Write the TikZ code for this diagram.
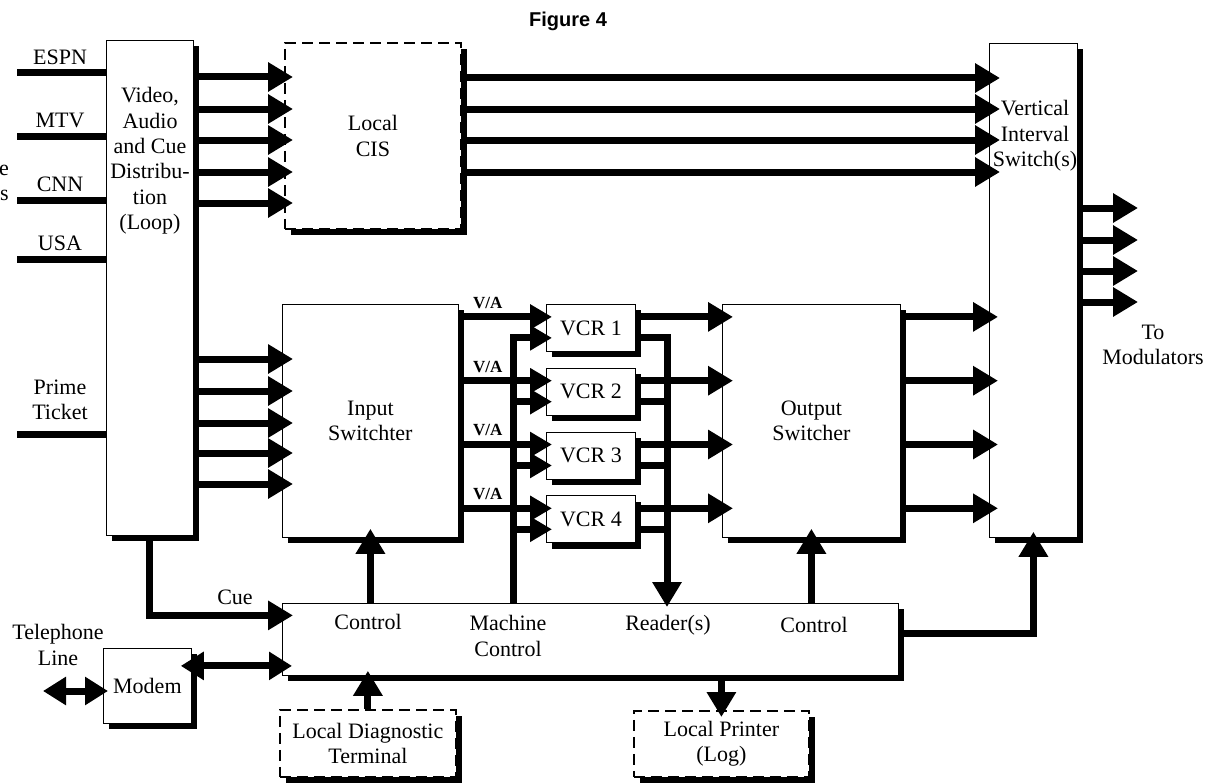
\documentclass[tikz,border=0pt]{standalone}
\usepackage{fontspec}
\setmainfont{Liberation Serif}
\newfontfamily\figfont{Liberation Sans}
\usepackage{tikz}
\usetikzlibrary{positioning,arrows.meta,calc,shadows}
\newcommand{\txt}{\fontsize{22}{25.4}\selectfont}

\begin{document}
\begin{tikzpicture}[
  x=1pt, y=-1pt,
  box/.style={draw, line width=0.8pt, fill=white, inner sep=0pt, anchor=north west, align=center, font=\txt,
    drop shadow={shadow xshift=6pt, shadow yshift=-6pt, fill=black, opacity=1}},
  dbox/.style={box, line width=1.8pt, dash pattern=on 11pt off 6pt},
  vcrbox/.style={box, minimum width=89, minimum height=47},
  lbl/.style={align=center, font=\txt, inner sep=0pt},
  valbl/.style={font=\fontsize{17}{19}\selectfont\bfseries, inner sep=0pt},
  wire/.style={line width=7pt},
  arr/.style={wire, -{Triangle[length=25pt,width=28pt]}, shorten >=-9pt},
  arrs/.style={wire, -{Triangle[length=22pt,width=24pt]}, shorten >=-6pt},
  dbl/.style={wire, {Triangle[length=23pt,width=27pt]}-{Triangle[length=23pt,width=27pt]}}
]
\useasboundingbox (0,0) rectangle (1216,784);
\node[font=\figfont\bfseries\fontsize{20}{24}\selectfont] (fig) at (568,21) {Figure 4};

% boxes
\node[box, minimum width=87, minimum height=495] (dist) at (106,40) {};
\node[dbox, minimum width=176, minimum height=186] (cis) at (284,42) {Local\\CIS};
\node[box, minimum width=88, minimum height=494] (vis) at (989,43) {};
\node[box, minimum width=176, minimum height=233] (insw) at (282,304) {Input\\Switchter};
\node[box, minimum width=178, minimum height=233] (outsw) at (722,304) {Output\\Switcher};
\node[vcrbox] (vcr1) at (546,304) {VCR 1};
\node[vcrbox, below=16pt of vcr1] (vcr2) {VCR 2};
\node[vcrbox, below=16pt of vcr2] (vcr3) {VCR 3};
\node[vcrbox, below=16pt of vcr3] (vcr4) {VCR 4};
\node[box, minimum width=616, minimum height=72] (ctrl) at (282,603) {};
\node[box, minimum width=88, minimum height=75] (modem) at (103,648) {Modem};
\node[dbox, minimum width=176, minimum height=67] (diag) at (279,709) {Local Diagnostic\\Terminal};
\node[dbox, minimum width=175, minimum height=66] (printer) at (633,710) {Local Printer\\(Log)};

% feeds
\node[lbl, anchor=east, align=right] (srcs) at (9,183) {e\\s};
\foreach \name/\y in {ESPN/73, MTV/136, CNN/200, USA/259}
  \node[lbl] (\name) at (60,\y-16) {\name};
\node[lbl] (prime) at (60,400) {Prime\\Ticket};
\foreach \y [count=\i] in {73,136,200,259,434} {
  \coordinate (feed\i) at (17,\y);
  \draw[wire] (feed\i) -- (feed\i -| dist.west);
}

% distribution
\foreach \y in {77,109,140,172,203}
  \draw[arr] (dist.east |- 0,\y) -- (cis.west |- 0,\y);
\foreach \y in {359,391,423,453,484}
  \draw[arr, shorten >=-11pt] (dist.east |- 0,\y) -- (insw.west |- 0,\y);
\foreach \y in {78,109,140,172}
  \draw[arr, shorten >=-11pt] (cis.east |- 0,\y) -- (vis.west |- 0,\y);
\coordinate (modin) at (1138,0);
\foreach \y in {208,240,271,302}
  \draw[arr, shorten >=0pt] (vis.east |- 0,\y) -- (modin |- 0,\y);

% VCR bank
\coordinate (mcx) at (513,0);
\coordinate (rdx) at (667,0);
\foreach \i in {1,...,4} {
  \coordinate (va\i) at ($(vcr\i.west)+(0,-11)$);
  \coordinate (mc\i) at ($(vcr\i.west)+(0,10)$);
  \draw[arrs] (va\i -| insw.east) -- (va\i);
  \node[valbl] (va\i lbl) at ($(va\i -| insw.east)+(29,-14)$) {V/A};
  \draw[arr, shorten >=-11pt] (va\i -| vcr\i.east) -- (va\i -| outsw.west);
  \draw[arr] (va\i -| outsw.east) -- (va\i -| vis.west);
}
\draw[arrs] (mcx |- ctrl.north) -- (mcx |- mc1) -- (mc1);
\foreach \i in {2,3,4}
  \draw[arrs] (mcx |- mc\i) -- (mc\i);
\draw[arr, shorten >=-4pt] (mc1 -| vcr1.east) -| (rdx |- ctrl.north);
\foreach \i in {2,3,4}
  \draw[wire] (mc\i -| vcr\i.east) -- (mc\i -| rdx);

% control
\draw[arr] (insw.south |- ctrl.north) -- (insw.south);
\draw[arr] (outsw.south |- ctrl.north) -- (outsw.south);
\draw[arr, shorten >=-6pt] ([yshift=6pt]ctrl.east) -| (vis.south);
\draw[arr, shorten >=-7pt] (printer.north |- ctrl.south) -- (printer.north);
\draw[arr, shorten >=-5pt] (diag.north) -- (diag.north |- ctrl.south);
\draw[arr, shorten >=-11pt] (dist.south) |- ([yshift=24pt]ctrl.west);
\node[lbl] (cue) at (235,597) {Cue};
\node[lbl] (ctrla) at (368,622) {Control};
\node[lbl] (mctl) at (508,636) {Machine\\Control};
\node[lbl] (rdr) at (668,625) {Reader(s)};
\node[lbl] (ctrlb) at (814,625) {Control};

% modem
\coordinate (tel) at (43,691);
\draw[dbl, shorten >=-5pt] (tel) -- (tel -| modem.west);
\draw[dbl, shorten <=-11pt, shorten >=-10pt] ([yshift=20pt]modem.east) -- ([yshift=20pt]modem.east -| ctrl.west);
\node[lbl] (telline) at (58,645) {Telephone\\Line};

% labels on top
\node[lbl] (distlbl) at (150,161) {Video,\\Audio\\and Cue\\Distribu-\\tion\\(Loop)};
\node[lbl] (vislbl) at (1035,136) {Vertical\\Interval\\Switch(s)};
\node[lbl] (modout) at (1153,345) {To\\Modulators};
\end{tikzpicture}
\end{document}
